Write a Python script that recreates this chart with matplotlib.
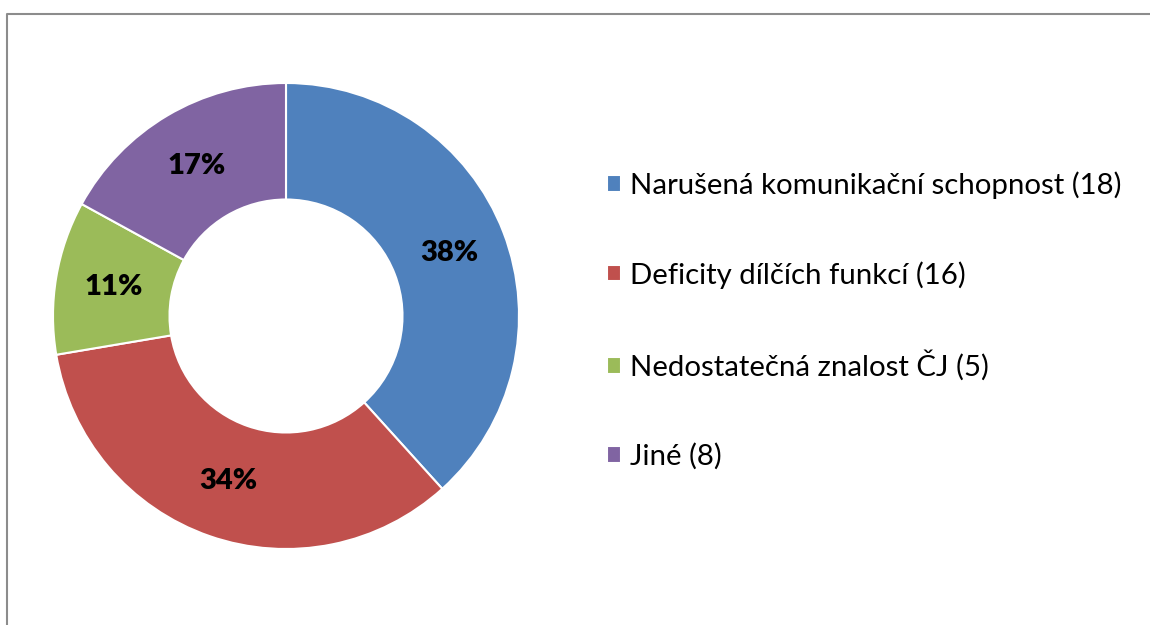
import matplotlib
matplotlib.use("Agg")
import matplotlib.pyplot as plt
from matplotlib.lines import Line2D

labels = ["Narušená komunikační schopnost (18)", "Deficity dílčích funkcí (16)",
          "Nedostatečná znalost ČJ (5)", "Jiné (8)"]
values = [18, 16, 5, 8]
colors = ["#4f81bd", "#c0504d", "#9bbb59", "#8064a2"]

plt.rcParams['font.family'] = ['Lato', 'DejaVu Sans']

fig = plt.figure(figsize=(11.5, 6.25), dpi=100)

# outer gray frame: only top and left edges are visible
fx, fy = 6.5 / 1150, 1 - 13.5 / 625
fig.lines.append(Line2D([fx, fx, 1.01], [-0.01, fy, fy], transform=fig.transFigure,
                        color="#8c8c8c", linewidth=1.5))

# pie centre (286, 316), radius ~233 px
r = 233
cx, cy = 286, 625 - 316
ax = fig.add_axes([(cx - r) / 1150, (cy - r) / 625, 2 * r / 1150, 2 * r / 625])
wedges, texts, autotexts = ax.pie(
    values, colors=colors, startangle=90, counterclock=False,
    autopct=lambda p: f"{p:.0f}%", pctdistance=0.75,
    wedgeprops=dict(width=0.5, edgecolor="white", linewidth=1.5),
    textprops=dict(fontsize=21, fontweight="heavy", color="black"))
ax.set_aspect("equal")
ax.set_xlim(-1, 1)
ax.set_ylim(-1, 1)

fig.legend(wedges, labels, loc="upper left",
           bbox_to_anchor=(580 / 1150, 1 - 145 / 625),
           frameon=False, fontsize=21.2, handlelength=0.5, handleheight=0.5,
           handletextpad=0.3, labelspacing=2.1)

fig.savefig("out.png", dpi=100)
